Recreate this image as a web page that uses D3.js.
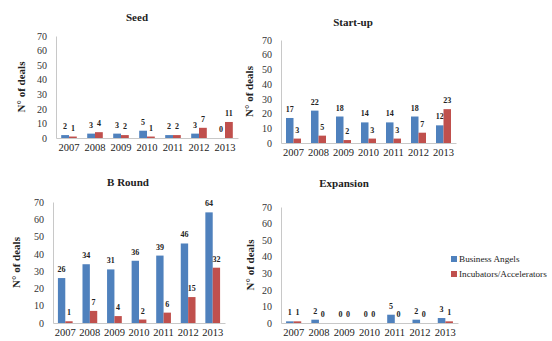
<!DOCTYPE html>
<html>
<head>
<meta charset="utf-8">
<script src="https://cdn.jsdelivr.net/npm/d3@7"></script>
<style>
  html, body { margin: 0; padding: 0; background: #fff; }
  svg { display: block; }
  text { font-family: "Liberation Serif", "Times New Roman", serif; fill: #222; }
</style>
</head>
<body>
<svg id="chart" width="552" height="341"></svg>
<script>
// Deals per year by investor type, one panel per stage
const years = ["2007", "2008", "2009", "2010", "2011", "2012", "2013"];
const yTicks = [0, 10, 20, 30, 40, 50, 60, 70];
const seriesNames = ["Business Angels", "Incubators/Accelerators"];
const seriesColors = ["#4F81BD", "#C0504D"];

const seedAngels = [2, 3, 3, 5, 2, 3, 0];
const seedIncubators = [1, 4, 2, 1, 2, 7, 11];
const startupAngels = [17, 22, 18, 14, 14, 18, 12];
const startupIncubators = [3, 5, 2, 3, 3, 7, 23];
const bRoundAngels = [26, 34, 31, 36, 39, 46, 64];
const bRoundIncubators = [1, 7, 4, 2, 6, 15, 32];
const expansionAngels = [1, 2, 0, 0, 5, 2, 3];
const expansionIncubators = [1, 0, 0, 0, 0, 0, 1];

// Panel frames: plot box, title and axis-title anchors
const panels = [
  { title: "Seed", series: [seedAngels, seedIncubators],
    left: 56, right: 238, bottom: 138, top: 36, titleX: 137, titleY: 21, yTitleX: 21 },
  { title: "Start-up", series: [startupAngels, startupIncubators],
    left: 281, right: 456, bottom: 143, top: 40, titleX: 353, titleY: 26, yTitleX: 249 },
  { title: "B Round", series: [bRoundAngels, bRoundIncubators],
    left: 53, right: 225, bottom: 323, top: 202, titleX: 128, titleY: 186, yTitleX: 16 },
  { title: "Expansion", series: [expansionAngels, expansionIncubators],
    left: 281, right: 458, bottom: 323, top: 207, titleX: 344, titleY: 187, yTitleX: 250 }
];

const svg = d3.select("#chart");

panels.forEach(p => {
  const g = svg.append("g");
  const x = d3.scaleBand().domain(years).range([p.left, p.right]).padding(0);
  const y = d3.scaleLinear().domain([0, 70]).range([p.bottom, p.top]);
  const barW = x.bandwidth() * 0.3;

  // title
  g.append("text")
    .attr("x", p.titleX).attr("y", p.titleY)
    .attr("text-anchor", "middle")
    .style("font-size", "11px").style("font-weight", "bold")
    .text(p.title);

  // y axis (labels only, plus a light rule)
  const yAxis = d3.axisLeft(y).tickValues(yTicks).tickSize(0).tickPadding(9);
  const ya = g.append("g").attr("transform", `translate(${p.left},0)`).call(yAxis);
  ya.select(".domain").attr("stroke", "#c8c8c8");
  ya.selectAll("text").style("font-size", "10px").style("fill", "#333")
    .style("font-family", "'Liberation Serif', serif");

  // x axis
  const xAxis = d3.axisBottom(x).tickSize(0).tickPadding(6);
  const xa = g.append("g").attr("transform", `translate(0,${p.bottom})`).call(xAxis);
  xa.select(".domain").attr("stroke", "#c8c8c8");
  xa.selectAll("text").style("font-size", "10.5px").style("fill", "#222")
    .style("font-family", "'Liberation Serif', serif");

  // y axis title
  const midY = (p.top + p.bottom) / 2;
  g.append("text")
    .attr("transform", `translate(${p.yTitleX},${midY}) rotate(-90)`)
    .attr("text-anchor", "middle")
    .attr("dy", "0.35em")
    .style("font-size", "11px").style("font-weight", "bold")
    .text("N\u00B0 of deals");

  // bars and value labels
  p.series.forEach((vals, si) => {
    const offset = si === 0 ? -barW : 0;
    const cx = d => x(years[d]) + x.bandwidth() / 2 + offset;
    g.selectAll(null).data(vals).enter().append("rect")
      .attr("x", (d, i) => cx(i))
      .attr("y", d => y(d))
      .attr("width", barW)
      .attr("height", d => y(0) - y(d))
      .attr("fill", seriesColors[si]);
    g.selectAll(null).data(vals).enter().append("text")
      .attr("x", (d, i) => cx(i) + barW / 2)
      .attr("y", d => y(d) - 6)
      .attr("text-anchor", "middle")
      .style("font-size", "8px").style("font-weight", "bold")
      .text(d => d);
  });
});

// legend
const legend = svg.append("g").attr("transform", "translate(451,259)");
seriesNames.forEach((name, i) => {
  const row = legend.append("g").attr("transform", `translate(0,${i * 15})`);
  row.append("rect").attr("x", 0).attr("y", -3).attr("width", 6).attr("height", 6)
    .attr("fill", seriesColors[i]);
  row.append("text").attr("x", 8).attr("y", 0).attr("dy", "0.35em")
    .style("font-size", "9.2px").text(name);
});
</script>
</body>
</html>
